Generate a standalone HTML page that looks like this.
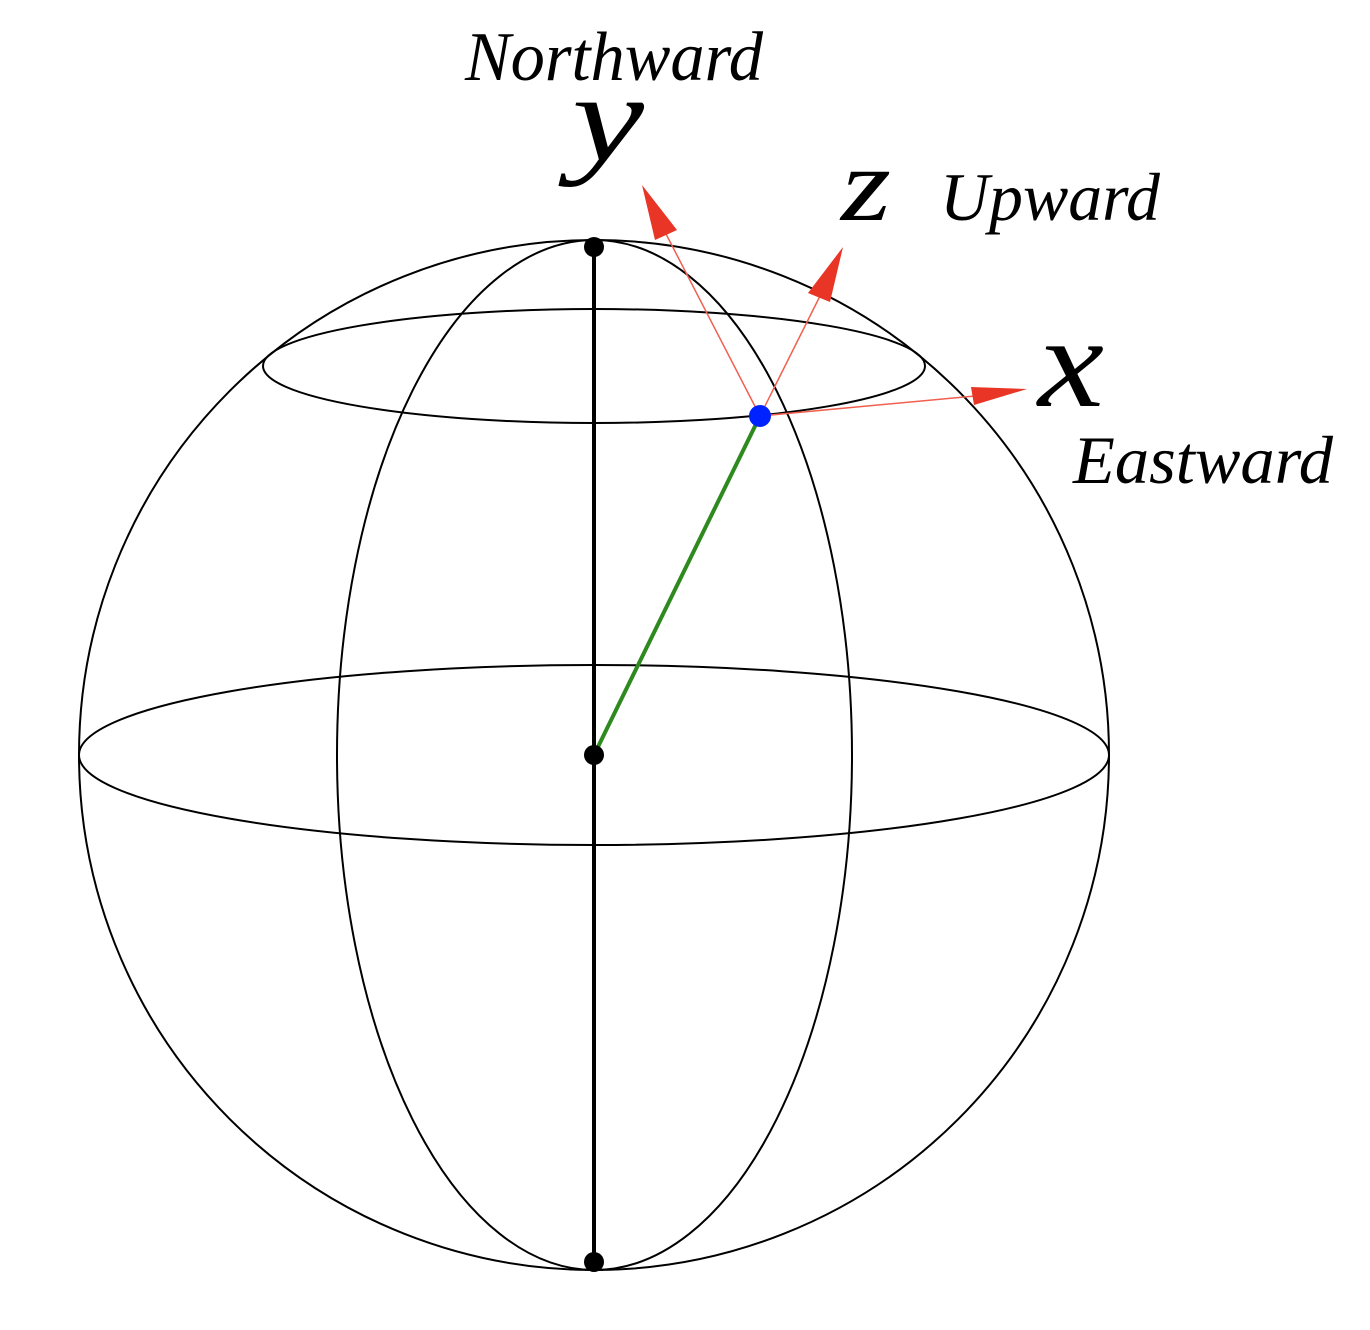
<!DOCTYPE html>
<html><head><meta charset="utf-8"><style>
html,body{margin:0;padding:0;background:#fff;}
svg{display:block;}
text{font-family:"Liberation Serif",serif;font-style:italic;fill:#000;}
</style></head><body>
<svg width="1370" height="1330" viewBox="0 0 1370 1330" xmlns="http://www.w3.org/2000/svg">
<g fill="none" stroke="#000" stroke-width="2">
<circle cx="594" cy="755" r="515"/>
<ellipse cx="594" cy="755" rx="515" ry="90"/>
<ellipse cx="594" cy="366" rx="331" ry="57"/>
<ellipse cx="594.5" cy="755" rx="257.5" ry="515"/>
</g>
<line x1="594" y1="247" x2="594" y2="1262" stroke="#000" stroke-width="4"/>
<line x1="594" y1="755" x2="760" y2="416" stroke="#2e8a1f" stroke-width="4"/>
<g stroke="#f06050" stroke-width="1.5">
<line x1="760" y1="416" x2="665" y2="232"/>
<line x1="760" y1="416" x2="820" y2="296"/>
<line x1="760" y1="416" x2="975" y2="396"/>
</g>
<g fill="#e83525">
<polygon points="642,185 677,230 655,240"/>
<polygon points="843,247 830,302 808,293"/>
<polygon points="1027,389 974,405 971,387"/>
</g>
<circle cx="594" cy="247" r="10" fill="#000"/>
<circle cx="594" cy="755" r="10" fill="#000"/>
<circle cx="594" cy="1262" r="10" fill="#000"/>
<circle cx="760" cy="416" r="11" fill="#0022ff"/>
<text x="465" y="80" font-size="70" textLength="298" lengthAdjust="spacingAndGlyphs">Northward</text>
<text x="572" y="160" font-size="125" textLength="72" lengthAdjust="spacingAndGlyphs">y</text>
<text x="841" y="220" font-size="105" textLength="50" lengthAdjust="spacingAndGlyphs">z</text>
<text x="940" y="220" font-size="68" textLength="220" lengthAdjust="spacingAndGlyphs">Upward</text>
<text x="1038" y="406" font-size="130" textLength="66" lengthAdjust="spacingAndGlyphs">x</text>
<text x="1073" y="483" font-size="68" textLength="260" lengthAdjust="spacingAndGlyphs">Eastward</text>
</svg>
</body></html>
